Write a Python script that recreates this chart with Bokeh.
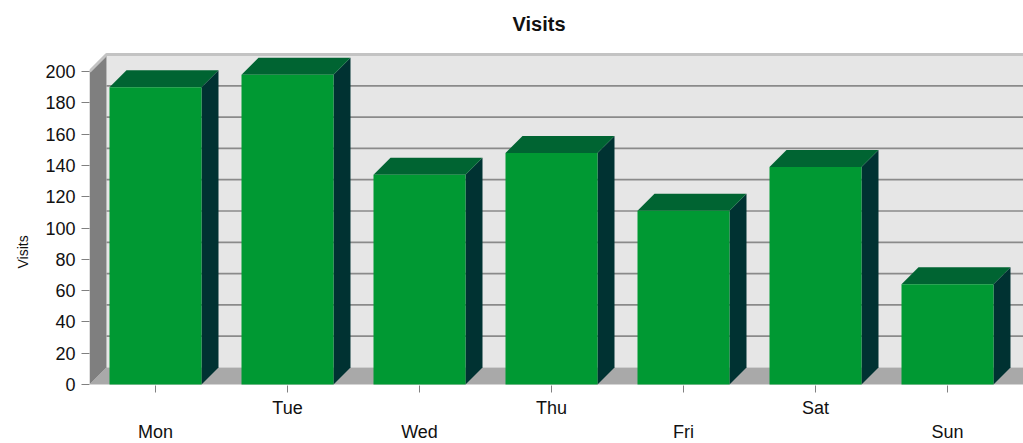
import math
from bokeh.plotting import figure
from bokeh.models import Range1d, FixedTicker, LinearAxis, Title
from bokeh.embed import file_html
from bokeh.resources import INLINE

# ---------------- data ----------------
days = ["Mon", "Tue", "Wed", "Thu", "Fri", "Sat", "Sun"]
visits = [190, 198, 134, 148, 111, 139, 64]
y_ticks = [0, 20, 40, 60, 80, 100, 120, 140, 160, 180, 200]
title_text = "Visits"
y_label_text = "Visits"

# ---------------- layout (pixels) ----------------
W, H = 1023, 443
BORDER_L, BORDER_T, BORDER_B = 89, 44, 58
FRAME_W = W - BORDER_L
FRAME_H = H - BORDER_T - BORDER_B
PX_PER_CAT = 132.0
PX_PER_UNIT = 1.565
DEPTH_PX = 17.0
BAR_HALF = 46.0 / PX_PER_CAT

FONT = "Liberation Sans"

DX = DEPTH_PX / PX_PER_CAT
DY = DEPTH_PX / PX_PER_UNIT
x0 = -0.5
x_end = x0 + FRAME_W / PX_PER_CAT
y0 = -1.0 / PX_PER_UNIT
y_end = y0 + FRAME_H / PX_PER_UNIT
ymax = max(y_ticks)
far = x_end + 1.0

p = figure(frame_width=FRAME_W, frame_height=FRAME_H,
           output_backend="svg", toolbar_location=None,
           x_range=Range1d(x0, x_end), y_range=Range1d(y0, y_end),
           min_border_left=BORDER_L, min_border_top=BORDER_T,
           min_border_bottom=BORDER_B, min_border_right=0,
           title=title_text)
p.outline_line_color = None
p.xgrid.visible = False
p.ygrid.visible = False
p.background_fill_color = "white"
p.border_fill_color = "white"

p.title.align = "left"
p.title.offset = 423
p.title.standoff = 20
p.title.text_font = FONT
p.title.text_font_size = "20px"
p.title.text_line_height = 1.0
p.title.text_font_style = "bold"
p.title.text_color = "#111111"

# ---- back wall ----
p.quad(left=[x0 + DX], right=[far], bottom=[DY], top=[ymax + DY],
       fill_color="#e6e6e6", line_color=None)
# gridlines on back wall
gl = [t for t in y_ticks if 0 < t < ymax]
p.segment(x0=[x0 + DX] * len(gl), x1=[far] * len(gl),
          y0=[t + DY for t in gl], y1=[t + DY for t in gl],
          line_color="#8a8a8a", line_width=1.7)
# floor
p.patch([x0, x0 + DX, far + DX, far], [0, DY, DY, 0],
        fill_color="#a9a9a9", line_color=None)
# left wall
p.patch([x0, x0, x0 + DX, x0 + DX], [0, ymax, ymax + DY, DY],
        fill_color="#7f7f7f", line_color=None)
# top rim
p.line([x0, x0 + DX, far], [ymax, ymax + DY, ymax + DY],
       line_color="#c3c3c3", line_width=3)

# ---- bars ----
xs = list(range(len(days)))
for i, v in zip(xs, visits):
    l, r = i - BAR_HALF, i + BAR_HALF
    # side
    p.patch([r, r, r + DX, r + DX], [0, v, v + DY, DY],
            fill_color="#003232", line_color=None)
    # top
    p.patch([l, l + DX, r + DX, r], [v, v + DY, v + DY, v],
            fill_color="#006432", line_color=None)
# fronts
p.quad(left=[i - BAR_HALF for i in xs], right=[i + BAR_HALF for i in xs],
       bottom=[0] * len(xs), top=visits, fill_color="#009933", line_color=None)

# ---- y axis ----
ya = p.yaxis[0]
ya.ticker = FixedTicker(ticks=y_ticks)
ya.axis_line_color = None
ya.major_tick_out = 8
ya.major_tick_in = 0
ya.minor_tick_out = 0
ya.minor_tick_in = 0
ya.major_tick_line_color = "#808080"
ya.major_label_text_font = FONT
ya.major_label_text_font_size = "18px"
ya.major_label_text_color = "#111111"
ya.major_label_standoff = 6

# y axis title, as a side title so it can sit below the frame's middle
yt = Title(text=y_label_text, align="left", offset=117, standoff=23,
           text_font=FONT, text_font_size="14px", text_font_style="normal",
           text_color="#111111")
p.add_layout(yt, "left")

# ---- x axes (staggered labels) ----
xa = p.xaxis[0]
xa.ticker = FixedTicker(ticks=xs)
xa.major_label_overrides = {i: (d if i % 2 == 1 else " ") for i, d in zip(xs, days)}
xa.axis_line_color = None
xa.major_tick_out = 7
xa.major_tick_in = 0
xa.minor_tick_out = 0
xa.minor_tick_in = 0
xa.major_tick_line_color = "#808080"
xa.major_label_text_font = FONT
xa.major_label_text_font_size = "18px"
xa.major_label_text_color = "#111111"
xa.major_label_standoff = 5

xb = LinearAxis(ticker=FixedTicker(ticks=[i for i in xs if i % 2 == 0]))
xb.major_label_overrides = {i: d for i, d in zip(xs, days) if i % 2 == 0}
xb.axis_line_color = None
xb.major_tick_out = 0
xb.major_tick_in = 0
xb.minor_tick_out = 0
xb.minor_tick_in = 0
xb.major_label_text_font = FONT
xb.major_label_text_font_size = "18px"
xb.major_label_text_color = "#111111"
xb.major_label_text_line_height = 0.9
xb.major_label_standoff = 1
p.add_layout(xb, "below")

open("out.html", "w").write(file_html(p, INLINE))
